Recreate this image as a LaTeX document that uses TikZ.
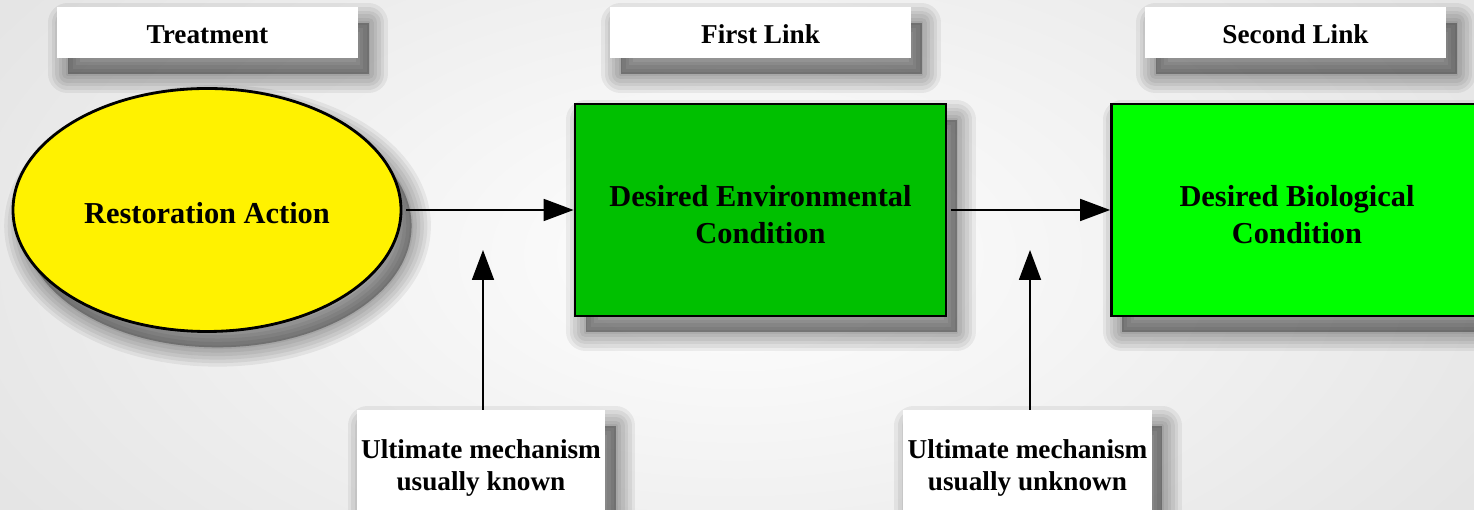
\documentclass[tikz,border=0pt]{standalone}
\usepackage{fontspec}
\setmainfont{Liberation Serif}
\usetikzlibrary{arrows.meta,shapes.geometric}

\tikzset{
    % one see-through layer of a soft drop shadow
    shadowlayer/.style={fill=black, draw=black, line join=round, line width=#1, opacity=.06,
        transform canvas={xshift=6pt, yshift=-9pt}},
    softshadow/.style={
        preaction={shadowlayer=22pt}, preaction={shadowlayer=18pt},
        preaction={shadowlayer=14pt}, preaction={shadowlayer=10pt},
        preaction={shadowlayer=6pt}, preaction={shadowlayer=2pt}},
    % white title boxes
    labelbox/.style={softshadow, fill=white, minimum width=6.02cm, minimum height=1.02cm,
        inner sep=0pt, text height=12.4pt, text depth=0pt,
        font=\fontsize{15.5}{17.6}\selectfont\bfseries},
    notebox/.style={softshadow, fill=white, minimum width=4.97cm, minimum height=2.32cm,
        inner sep=0pt, align=center, font=\fontsize{15.5}{17.8}\selectfont\bfseries},
    condbox/.style={softshadow, draw=black, line width=1.6pt, minimum width=7.42cm,
        minimum height=4.24cm, inner sep=0pt, align=center,
        font=\fontsize{17.3}{21}\selectfont\bfseries},
    link/.style={line width=1pt, -{Triangle[length=0.6cm, width=0.44cm]}}
}

\begin{document}
\begin{tikzpicture}

    % Page frame and light background
    \clip (0,0) rectangle (29.48,10.2);
    \shade[inner color=white, outer color=gray!20] (-2,-4) rectangle (31.48,14.2);

    % Column titles
    \node[labelbox] (treat) at (4.15,9.55) {Treatment};
    \node[labelbox] (first) at (15.21,9.55) {First Link};
    \node[labelbox] (second) at (25.91,9.55) {Second Link};

    % The action and the two conditions
    \node[condbox, ellipse, fill=yellow, minimum width=7.76cm, minimum height=4.86cm]
        (action) at (4.14,6.0) {\rule{0pt}{15pt}Restoration Action};
    \node[condbox, fill={rgb,255:red,0;green,192;blue,0}]
        (envcond) at (15.21,6.0) {\rule{0pt}{17.6pt}Desired Environmental\\Condition};
    \node[condbox, fill={rgb,255:red,0;green,255;blue,0}]
        (biocond) at (25.94,6.0) {\rule{0pt}{17.6pt}Desired Biological\\Condition};

    % Notes on the mechanisms
    \node[notebox] (known) at (9.62,0.84) {Ultimate mechanism\\usually known};
    \node[notebox] (unknown) at (20.55,0.84) {Ultimate mechanism\\usually unknown};

    % Tips of the vertical arrows
    \coordinate (tipA) at (9.66,5.2);
    \coordinate (tipB) at (20.6,5.2);

    % Connectors
    \draw[link, shorten <=0.08cm] (action.east) -- (envcond.west);
    \draw[link, shorten <=0.08cm] (envcond.east) -- (biocond.west);
    \draw[link] (known.north -| tipA) -- (tipA);
    \draw[link] (unknown.north -| tipB) -- (tipB);

\end{tikzpicture}
\end{document}
